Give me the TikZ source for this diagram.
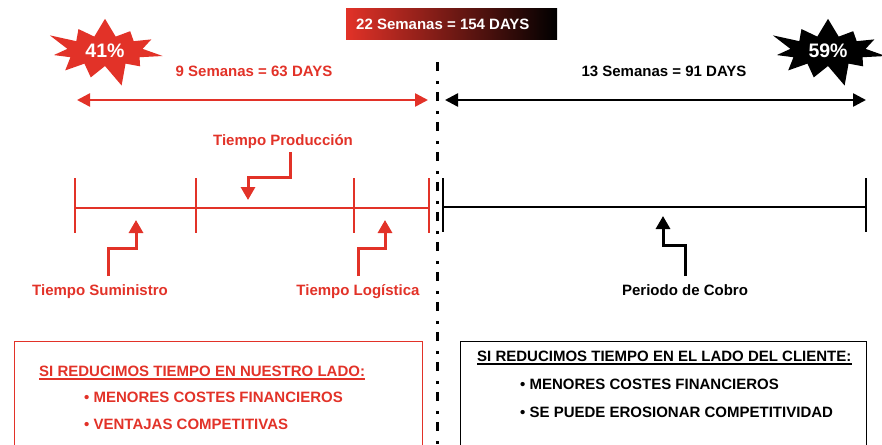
\documentclass[tikz,border=0pt]{standalone}
\usepackage{fontspec}
\setmainfont{Liberation Sans}
\usetikzlibrary{arrows.meta,positioning,calc,shapes.symbols}
\definecolor{cred}{RGB}{226,50,40}

\tikzset{
    lbl/.style={font=\bfseries\fontsize{15}{18}\selectfont, inner sep=0pt},
    tline/.style={line width=2.5pt},
    span/.style={line width=2.5pt, {Triangle[length=13pt,width=13pt]}-{Triangle[length=13pt,width=13pt]}},
    pointer/.style={line width=3pt, -{Triangle[length=13pt,width=14pt]}},
    burst/.style={starburst, starburst points=11, starburst point height=24pt,
        minimum width=124pt, minimum height=78pt, inner sep=0pt, text=white,
        font=\bfseries\fontsize{19.5}{22}\selectfont},
    divider/.style={line width=3pt, dash pattern=on 9pt off 10pt on 3pt off 8pt},
}

\begin{document}
\begin{tikzpicture}[x=1pt,y=-1pt]
    %\draw[step=10,help lines] (0,0) grid (882,444);
    \clip (0,0) rectangle (882,444);

    % banner and bursts
    \shade[left color=cred, right color=black] (346,9) rectangle (557,40);
    \node[lbl, text=white, anchor=base west] (total) at (356,30) {22 Semanas = 154 DAYS};
    \node[burst, fill=cred] (pctleft) at (105,51) {41\%};
    \node[burst, fill=black] (pctright) at (828,51) {59\%};

    % spans
    \node[lbl, text=cred, anchor=base] (spanleft) at (254,76) {9 Semanas = 63 DAYS};
    \node[lbl, anchor=base] (spanright) at (664,76) {13 Semanas = 91 DAYS};
    \coordinate (sl1) at (77,100);
    \coordinate (sl2) at (428,100);
    \coordinate (sr1) at (445,100);
    \coordinate (sr2) at (866,100);
    \draw[span, cred] (sl1) -- (sl2);
    \draw[span] (sr1) -- (sr2);

    % divider
    \coordinate (divtop) at (437,62);
    \coordinate (divbot) at (437,444);
    \draw[divider] (divtop) -- (divbot);

    % timelines
    \coordinate (t0) at (75,208);
    \coordinate (t1) at (196,208);
    \coordinate (t2) at (354,208);
    \coordinate (t3) at (429,208);
    \coordinate (c0) at (443,207);
    \coordinate (c1) at (866,207);
    \draw[tline, cred] (t0) -- (t3);
    \draw[tline] (c0) -- (c1);
    \foreach \t in {t0,t1,t2,t3}
        \draw[tline, cred] ($(\t)+(0,-30)$) -- ($(\t)+(0,25)$);
    \foreach \t in {c0,c1}
        \draw[tline] ($(\t)+(0,-29)$) -- ($(\t)+(0,25)$);

    % labels and pointers
    \node[lbl, text=cred, anchor=base] (prod) at (283,145) {Tiempo Producción};
    \node[lbl, text=cred, anchor=base] (supply) at (100,295) {Tiempo Suministro};
    \node[lbl, text=cred, anchor=base] (logis) at (358,295) {Tiempo Logística};
    \node[lbl, anchor=base] (cobro) at (685,295) {Periodo de Cobro};

    \coordinate (prodtip) at (248,200);
    \coordinate (supplytip) at (136,220);
    \coordinate (logistip) at (385,220);
    \coordinate (cobrotip) at (663,216);

    \draw[pointer, cred] ($(prod.base)+(7,7)$) |- ($(prodtip)+(0,-23)$) -- (prodtip);
    \draw[pointer, cred] ($(supply.base)+(8,-19)$) |- ($(supplytip)+(0,28)$) -- (supplytip);
    \draw[pointer, cred] ($(logis.base)+(0,-19)$) |- ($(logistip)+(0,28)$) -- (logistip);
    \draw[pointer] ($(cobro.base)+(0,-19)$) |- ($(cobrotip)+(0,29)$) -- (cobrotip);

    % boxes
    \draw[cred, line width=1pt] (14,341) rectangle (422,460);
    \draw[line width=1pt] (460,341) rectangle (866,460);

    \node[lbl, text=cred, anchor=base west] (ourhead) at (39,376) {SI REDUCIMOS TIEMPO EN NUESTRO LADO:};
    \draw[cred, line width=2.5pt] ($(ourhead.base west)+(0,3)$) -- ($(ourhead.base east)+(0,3)$);
    \node[lbl, text=cred, anchor=base west] (our1) at (84,402) {\textbullet{} MENORES COSTES FINANCIEROS};
    \node[lbl, text=cred, anchor=base west] (our2) at (84,429) {\textbullet{} VENTAJAS COMPETITIVAS};

    \node[lbl, anchor=base west] (clihead) at (477,361) {SI REDUCIMOS TIEMPO EN EL LADO DEL CLIENTE:};
    \draw[line width=2pt] ($(clihead.base west)+(0,2.5)$) -- ($(clihead.base east)+(0,2.5)$);
    \node[lbl, anchor=base west] (cli1) at (520,389) {\textbullet{} MENORES COSTES FINANCIEROS};
    \node[lbl, anchor=base west] (cli2) at (520,417) {\textbullet{} SE PUEDE EROSIONAR COMPETITIVIDAD};

\end{tikzpicture}
\end{document}
